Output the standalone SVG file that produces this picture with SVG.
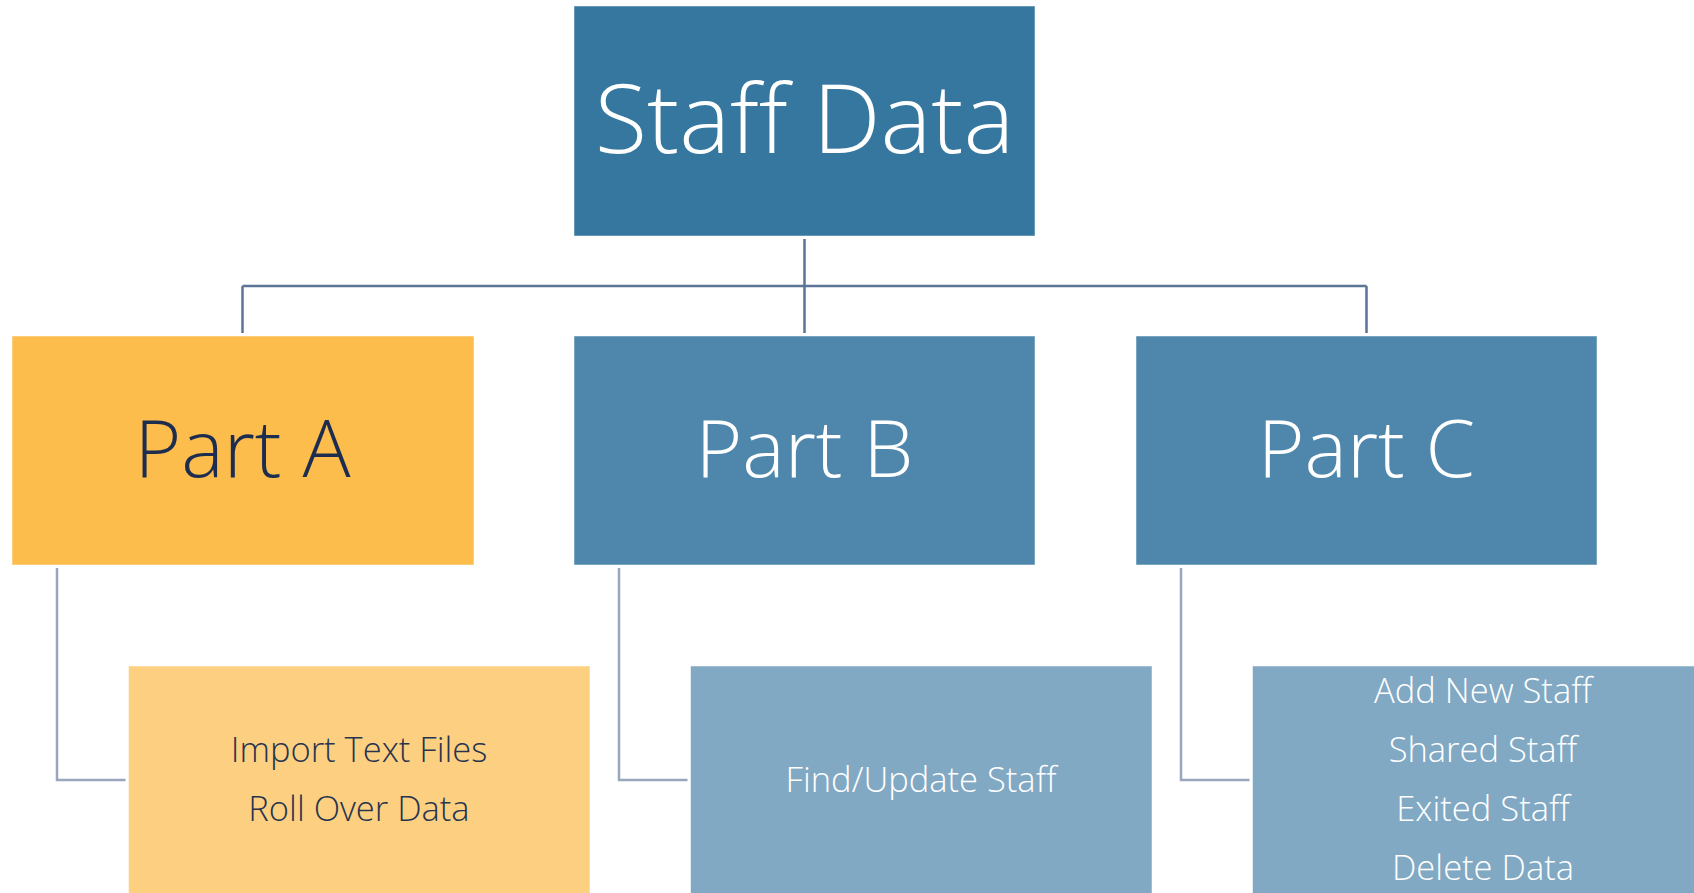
<svg xmlns="http://www.w3.org/2000/svg" width="1694" height="893" viewBox="0 0 1694 893">
<style>
.box{stroke:#ffffff;stroke-opacity:0.5;stroke-width:1}
.t{font-family:"Open Sans","Liberation Sans",sans-serif;font-weight:300;text-anchor:middle}
.w{fill:#ffffff}
.d{fill:#1c2d4f}
.c1{fill:none;stroke:#5b7596;stroke-width:2.5}
.c2{fill:none;stroke:#98a7bd;stroke-width:2.5}
</style>
<rect width="1694" height="893" fill="#ffffff"/>
<g id="connectors">
<path class="c1" d="M804.5 239V333M242.5 286H1366.5M242.5 286V333M1366.5 286V333"/>
<path class="c2" d="M57 568V780H125.5"/>
<path class="c2" d="M619 568V780H687.5"/>
<path class="c2" d="M1181 568V780H1249.5"/>
</g>
<g id="staff-data">
<rect class="box" x="574" y="6" width="461" height="230" fill="#35779f"/>
<text class="t w" x="804.5" y="153" font-size="96">Staff Data</text>
</g>
<g id="part-a">
<rect class="box" x="12" y="336" width="462" height="229" fill="#fdbd4c"/>
<text class="t d" x="242.5" y="477" font-size="80">Part A</text>
</g>
<g id="part-b">
<rect class="box" x="574" y="336" width="461" height="229" fill="#4e87ab"/>
<text class="t w" x="804.5" y="477" font-size="80">Part B</text>
</g>
<g id="part-c">
<rect class="box" x="1136" y="336" width="461" height="229" fill="#4e87ab"/>
<text class="t w" x="1366.5" y="477" font-size="80">Part C</text>
</g>
<g id="child-a">
<rect class="box" x="128.5" y="666" width="461.5" height="240" fill="#fdd081"/>
<text class="t" fill="#27344f" font-size="34.5" x="359" y="762">Import Text Files</text>
<text class="t" fill="#27344f" font-size="34.5" x="359" y="821">Roll Over Data</text>
</g>
<g id="child-b">
<rect class="box" x="690.5" y="666" width="461.5" height="240" fill="#81a9c4"/>
<text class="t w" font-size="34.5" x="921" y="792">Find/Update Staff</text>
</g>
<g id="child-c">
<rect class="box" x="1252.5" y="666" width="461.5" height="240" fill="#81a9c4"/>
<text class="t w" font-size="34.5" x="1483" y="703">Add New Staff</text>
<text class="t w" font-size="34.5" x="1483" y="762">Shared Staff</text>
<text class="t w" font-size="34.5" x="1483" y="821">Exited Staff</text>
<text class="t w" font-size="34.5" x="1483" y="880">Delete Data</text>
</g>
</svg>
